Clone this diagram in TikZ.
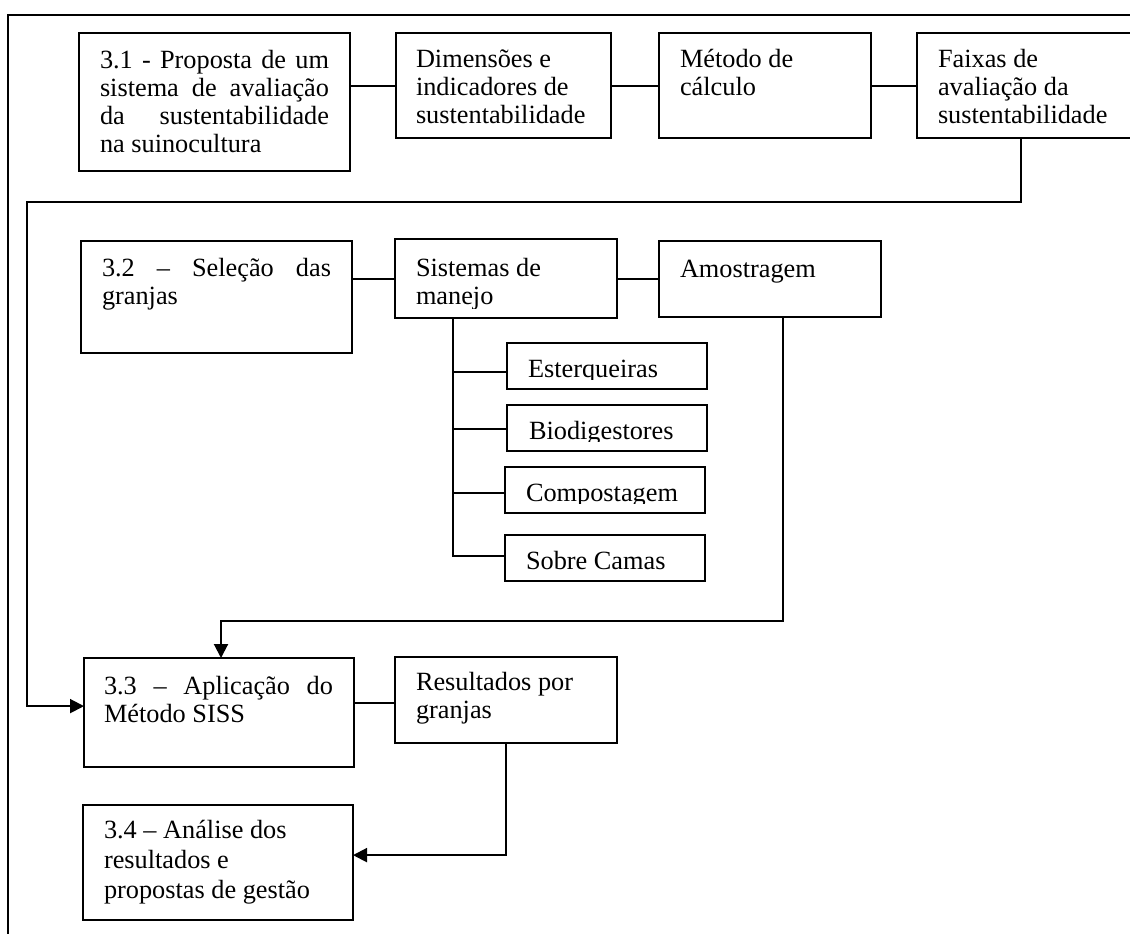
\documentclass[tikz,border=0pt]{standalone}
\usepackage{fontspec}
\setmainfont{Liberation Serif}
\usetikzlibrary{fit,arrows.meta}
\newlength\jw
\setlength\jw{114.5pt}
\newcommand\jline[1]{\makebox[\jw][s]{#1}}
\newcommand\txtlines[1]{\begin{tabular}[t]{@{}l@{}}#1\end{tabular}}
\begin{document}
\begin{tikzpicture}[x=0.5pt,y=-0.5pt,
  box/.style={draw, line width=1pt, inner sep=0pt, outer sep=0pt},
  txt/.style={anchor=base west, inner sep=0pt, outer sep=0pt, font=\fontsize{13.15pt}{14.15pt}\selectfont},
  link/.style={line width=1pt},
  arr/.style={line width=1pt, -{Triangle[length=7pt,width=7pt]}},
  frame/.style={line width=1.2pt}]
\useasboundingbox (0,0) rectangle (1130,933);
\fill[white] (0,0) rectangle (1130,933);
% outer frame (right and bottom edges lie outside the picture)
\draw[frame] (8,960) -- (8,15) -- (1160,15);

% row 1
\node[box, fit={(79,33) (350,171)}] (b31) {};
\node[box, fit={(396,33) (611,138)}] (bdim) {};
\node[box, fit={(659,33) (871,138)}] (bmet) {};
\node[box, fit={(917,33) (1170,138)}] (bfx) {};
\node[txt] (t31) at (100,68) {\txtlines{\jline{3.1 - Proposta de um}\\ \jline{sistema de avaliação}\\ \jline{da sustentabilidade}\\ na suinocultura}};
\node[txt] (tdim) at (416,67) {\txtlines{Dimensões e\\ indicadores de\\ sustentabilidade}};
\node[txt] (tmet) at (680,67) {\txtlines{Método de\\ cálculo}};
\node[txt] (tfx) at (938,67) {\txtlines{Faixas de\\ avaliação da\\ sustentabilidade}};

% row 2
\node[box, fit={(81,241) (352,353)}] (b32) {};
\node[box, fit={(395,239) (617,318)}] (bsis) {};
\node[box, fit={(659,241) (881,317)}] (bam) {};
\node[txt] (t32) at (102,276) {\txtlines{\jline{3.2 – Seleção das}\\ granjas}};
\begin{scope}
\clip (395,239) rectangle (617,308);
\node[txt] (tsis) at (416,276) {\txtlines{Sistemas de\\ manejo}};
\end{scope}
\node[txt] (tam) at (680,277) {Amostragem};

% sub-boxes
\node[box, fit={(507,343) (707,389)}] (bes) {};
\node[box, fit={(507,405) (707,451)}] (bbio) {};
\node[box, fit={(505,467) (705,513)}] (bcomp) {};
\node[box, fit={(505,535) (705,581)}] (bsob) {};
\begin{scope}
\clip (507,343) rectangle (707,379);
\node[txt] (tes) at (528,377) {Esterqueiras};
\end{scope}
\begin{scope}
\clip (507,405) rectangle (707,441);
\node[txt] (tbio) at (529,439) {Biodigestores};
\end{scope}
\begin{scope}
\clip (505,467) rectangle (705,503);
\node[txt] (tcomp) at (526,501) {Compostagem};
\end{scope}
\begin{scope}
\clip (505,535) rectangle (705,571);
\node[txt] (tsob) at (526,569) {Sobre Camas};
\end{scope}

% row 3
\node[box, fit={(84,658) (354,767)}] (b33) {};
\node[box, fit={(395,657) (617,743)}] (bres) {};
\node[txt] (t33) at (104,694) {\txtlines{\jline{3.3 – Aplicação do}\\ Método SISS}};
\node[txt] (tres) at (416,690) {\txtlines{Resultados por\\ granjas}};

% row 4
\node[box, fit={(83,805) (353,920)}] (b34) {};
\node[txt] (t34) at (104,838) {\renewcommand\arraystretch{1.06}\txtlines{3.4 – Análise dos\\ resultados e\\ propostas de gestão}};

% connectors row 1
\draw[link] (bdim.west) -- (bdim.west -| b31.east);
\draw[link] (bdim.east) -- (bdim.east -| bmet.west);
\draw[link] (bmet.east) -- (bmet.east -| bfx.west);

% loop from Faixas to 3.3
\coordinate (fx) at (1021,202);
\coordinate (lp) at (27,202);
\draw[arr] (bfx.south -| fx) -- (fx) -- (lp) |- ([yshift=3.2pt]b33.west);

% connectors row 2
\draw[link] (bsis.west) -- (bsis.west -| b32.east);
\draw[link] (bsis.east) -- (bsis.east -| bam.west);

% trunk and branches
\coordinate (tr) at (453,318);
\coordinate (bres1) at ([yshift=-3pt]bes.west);
\coordinate (bres2) at ([yshift=-0.5pt]bbio.west);
\coordinate (bres3) at ([yshift=-1.5pt]bcomp.west);
\coordinate (bres4) at ([yshift=1pt]bsob.west);
\draw[link] (tr) -- (tr |- bres4) -- (bres4);
\draw[link] (bres1 -| tr) -- (bres1);
\draw[link] (bres2 -| tr) -- (bres2);
\draw[link] (bres3 -| tr) -- (bres3);

% Amostragem to 3.3
\coordinate (am) at (783,621);
\coordinate (a33) at (221,621);
\draw[arr] (bam.south -| am) -- (am) -- (a33) -- (a33 |- b33.north);

% 3.3 to Resultados
\draw[link] ([yshift=-1.5pt]bres.west) -- ([yshift=-1.5pt]bres.west -| b33.east);

% Resultados to 3.4
\draw[arr] (bres.south) |- ([yshift=3.7pt]b34.east);
\end{tikzpicture}
\end{document}
